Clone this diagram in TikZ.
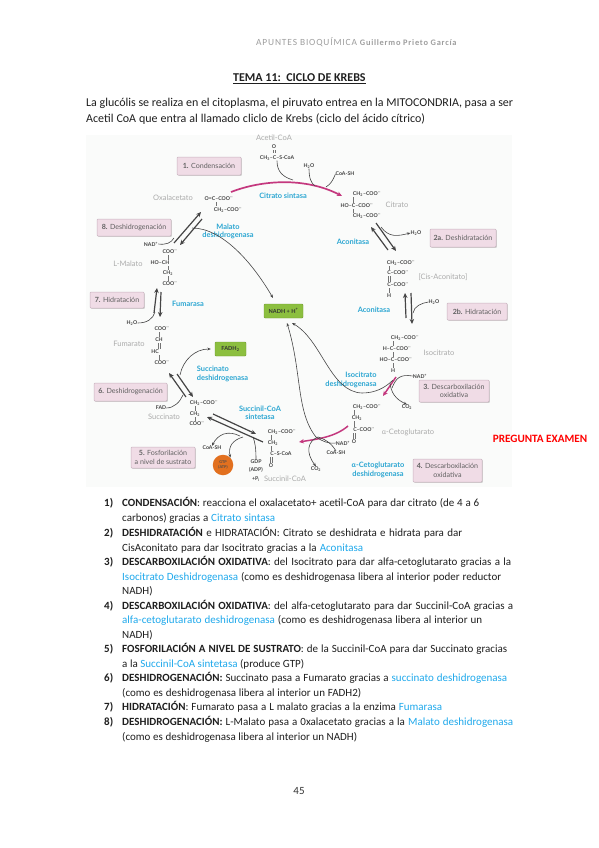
\documentclass[tikz,border=0pt]{standalone}
\usepackage{fontspec}
\setmainfont{Carlito}
\newfontfamily\figfont{Lato}
\newfontfamily\headfont[LetterSpace=9]{Carlito}
\usetikzlibrary{arrows.meta,shadows}
\definecolor{figback}{HTML}{FAFBFA}
\definecolor{boxpink}{HTML}{F0DCE6}
\definecolor{boxline}{HTML}{C9B3BF}
\definecolor{enzblue}{HTML}{2CA6D2}
\definecolor{listblue}{HTML}{1FA9EC}
\definecolor{labgray}{HTML}{ABABAB}
\definecolor{darkline}{HTML}{454545}
\definecolor{pinkline}{HTML}{C4387E}
\definecolor{greenbox}{HTML}{8CBF3F}
\definecolor{orangeball}{HTML}{E2701F}
\tikzset{
  mainarrow/.style={-{Stealth[length=5pt,width=4.5pt]}, line width=1.2pt, darkline},
  pinkarrow/.style={-{Stealth[length=5pt,width=4.5pt]}, line width=1.5pt, pinkline},
  thinarrow/.style={-{Stealth[length=3.5pt,width=2.8pt]}, line width=0.6pt, darkline},
  thinline/.style={line width=0.6pt, darkline},
  bond/.style={line width=0.3pt, black!55},
  stepbox/.style={draw=boxline, rounded corners=1pt, fill=boxpink, line width=0.5pt, inner sep=0pt, align=center,
    font=\figfont\fontsize{7.1}{8.4}\selectfont, text=black!62, drop shadow={shadow xshift=0.9pt, shadow yshift=-0.9pt, fill=black!35}},
  chem/.style={font=\figfont\bfseries\fontsize{5.2}{6}\selectfont, text=black!75, inner sep=0pt},
  enzyme/.style={font=\figfont\bfseries\fontsize{7.4}{8.4}\selectfont, text=enzblue, inner sep=0pt, align=center},
  gray label/.style={font=\figfont\fontsize{7.5}{9}\selectfont, text=labgray, inner sep=0pt},
  bodytext/.style={anchor=base west, inner sep=0pt, font=\fontsize{11}{13}\selectfont, text=black!88},
  prodbox/.style={draw=greenbox!80!black, rounded corners=1pt, fill=greenbox, inner sep=0pt, line width=0.4pt,
    font=\figfont\bfseries\fontsize{5.6}{7}\selectfont, text=black!80}
}
\newcommand{\chtwo}{CH\textsubscript{2}}
\newcommand{\cthree}{CH\textsubscript{3}}
\newcommand{\coom}{COO\textsuperscript{--}}
\newcommand{\water}{H\textsubscript{2}O}
\newcommand{\cotwo}{CO\textsubscript{2}}
\newcommand{\nadp}{NAD\textsuperscript{+}}
\newcommand{\alfa}{{\rmfamily α}}
\newcommand{\listline}[4]{\node[bodytext] (#1) at (122,#2) {\makebox[#3pt][s]{#4}};}
\newcommand{\enz}[1]{\textcolor{listblue}{#1}}
\begin{document}
\begin{tikzpicture}[x=1pt, y=-1pt]
  \useasboundingbox (0,0) rectangle (599,848);
  \fill[white] (0,0) rectangle (599,848);
  \fill[figback] (86,135) rectangle (512,487);

  % page head
  \node[anchor=base west, inner sep=0pt, text=black!38] (head) at (256,46) {\headfont\fontsize{9.4}{10}\selectfont APUNTES BIOQUÍMICA \fontsize{8.4}{10}\selectfont\bfseries Guillermo Prieto García};
  \node[bodytext, font=\bfseries\fontsize{12}{14}\selectfont] (title) at (233,82) {\underline{TEMA 11:\ \ CICLO DE KREBS}};
  \node[bodytext, font=\fontsize{12}{14}\selectfont] (introa) at (86,107) {\makebox[427pt][s]{La glucólis se realiza en el citoplasma, el piruvato entrea en la MITOCONDRIA, pasa a ser}};
  \node[bodytext, font=\fontsize{12}{14}\selectfont] (introb) at (86,123) {\makebox[339pt][s]{Acetil CoA que entra al llamado cliclo de Krebs (ciclo del ácido cítrico)}};

  % steps
  \node[stepbox, minimum width=64pt, minimum height=18pt] (paso1) at (209,166) {\textbf{1.} Condensación};
  \node[stepbox, minimum width=66pt, minimum height=18pt] (paso2a) at (463,238) {\textbf{2a.} Deshidratación};
  \node[stepbox, minimum width=60pt, minimum height=17pt] (paso2b) at (477,311.5) {\textbf{2b.} Hidratación};
  \node[stepbox, minimum width=70pt, minimum height=22pt] (paso3) at (454,391) {\textbf{3.} Descarboxilación\\oxidativa};
  \node[stepbox, minimum width=69pt, minimum height=23pt] (paso4) at (447.5,470.5) {\textbf{4.} Descarboxilación\\oxidativa};
  \node[stepbox, minimum width=64pt, minimum height=21pt] (paso5) at (163,457.5) {\textbf{5.} Fosforilación\\a nivel de sustrato};
  \node[stepbox, minimum width=73pt, minimum height=18pt] (paso6) at (130.5,392) {\textbf{6.} Deshidrogenación};
  \node[stepbox, minimum width=54pt, minimum height=16pt] (paso7) at (117,300) {\textbf{7.} Hidratación};
  \node[stepbox, minimum width=74pt, minimum height=17pt] (paso8) at (134,227.5) {\textbf{8.} Deshidrogenación};

  % metabolites
  \foreach \nm/\xp/\yp/\txt in {acetil/274/138/Acetil-CoA, oxa/173/198/Oxalacetato, citrato/397/205/Citrato,
    cis/443/277/{[Cis-Aconitato]}, isocit/439/353/Isocitrato, ceto/408/432/{\alfa-Cetoglutarato}, succoa/285/479/Succinil-CoA,
    succ/164/417/Succinato, fumarato/129/344/Fumarato, malato/128/264/L-Malato}
    \node[gray label] (\nm) at (\xp,\yp) {\txt};

  % enzymes
  \node[enzyme] (citsin) at (283,196) {Citrato sintasa};
  \node[enzyme] (acon1) at (353,242) {Aconitasa};
  \node[enzyme] (acon2) at (374,310) {Aconitasa};
  \node[enzyme, align=right] (isodh) at (351,380) {Isocitrato\\deshidrogenasa};
  \node[enzyme] (cetodh) at (378,470) {\alfa-Cetoglutarato\\deshidrogenasa};
  \node[enzyme] (sucsin) at (260,413) {Succinil-CoA\\sintetasa};
  \node[enzyme, align=left] (sucdh) at (222.5,374) {Succinato\\deshidrogenasa};
  \node[enzyme] (fumar) at (188,304) {Fumarasa};
  \node[enzyme] (maldh) at (228,231.5) {Malato\\deshidrogenasa};

  % formula lines
  \foreach \nm/\xp/\yp/\txt in {aco/274/147/O, acc/277/158/{\cthree–C–S-CoA},
    oxb/219/199/{O=C–\coom}, oxc/228/210/{\chtwo–\coom},
    cia/367/194/{\chtwo–\coom}, cib/357/206/{HO–C–\coom}, cic/367/216/{\chtwo–\coom},
    caa/401/263/{\chtwo–\coom}, cab/398/273/{C–\coom}, cac/398/285/{C–\coom}, cad/389/296/H,
    isa/405/338/{\chtwo–\coom}, isb/397/349/{H–C–\coom}, isc/396/360/{HO–C–\coom}, isd/393/371/H,
    kea/367/407/{\chtwo–\coom}, keb/357/418/{\chtwo}, kec/364/430/{C–\coom}, ked/354/442/O,
    sca/282/432/{\chtwo–\coom}, scb/273/443/{\chtwo}, scc/281/454/{C–S-CoA}, scd/271/466/O,
    sua/204/403/{\chtwo–\coom}, sub/195/414/{\chtwo}, suc/197/424/{\coom},
    fua/162/329/{\coom}, fub/159/340/CH, fuc/155/352/HC, fud/162/363/{\coom},
    maa/170/252/{\coom}, mab/160/263/{HO–CH}, mac/168/273/{\chtwo}, mad/170/284/{\coom}}
    \node[chem] (\nm) at (\xp,\yp) {\txt};
  \foreach \xp/\ya/\yb in {353/197/203, 353/209/213, 389/266/270, 389/288/293,
    393/341/346, 393/352/357, 393/363/368, 354/410/415, 354/421/427, 271/435/440, 271/446/451,
    195/406/411, 195/417/421, 159/332/337, 159/355/360, 168/255/260, 168/266/270, 168/276/281, 216/202/206}
    \draw[bond] (\xp,\ya) -- (\xp,\yb);
  \foreach \xp/\ya/\yb in {273/150/153, 275/150/153, 388/276/282, 390/276/282, 353/433/439, 355/433/439,
    270/457/463, 272/457/463, 158/343/349, 160/343/349}
    \draw[bond] (\xp,\ya) -- (\xp,\yb);

  % small reagents
  \foreach \nm/\xp/\yp/\txt in {aguaa/309/166/{\water}, coaa/345/174/CoA-SH, aguab/416/233/{\water}, aguac/434/302/{\water},
    nadc/420/376/{\nadp}, cotwa/407/407/{\cotwo}, nadd/343/443/{\nadp}, coab/336/453/CoA-SH, cotwb/316/469/{\cotwo},
    coac/212/448/CoA-SH, gdp/256/462/GDP, adp/256/470/(ADP), pi/256/479/+P\textsubscript{i}, fad/161/408/FAD,
    aguad/132/323/{\water}, nade/151/244/{\nadp}}
    \node[chem] (\nm) at (\xp,\yp) {\txt};

  \node[prodbox, minimum width=39pt, minimum height=14pt] (nadh) at (283.5,311) {NADH + H\textsuperscript{+}};
  \node[prodbox, minimum width=31pt, minimum height=14pt] (fadh) at (230.5,349) {FADH\textsubscript{2}};
  \node[circle, fill=orangeball, minimum size=20.5pt, inner sep=0pt, align=center, font=\figfont\bfseries\fontsize{3.8}{4.6}\selectfont, text=black!70] (gtp) at (223,465) {GTP\\(ATP)};

  % free ends
  \foreach \nm/\xp/\yp in {pka/231/192, pkb/342/196, pkc/396/377, pkd/383/396, pke/348/426, pkf/299/442,
    ma/174/243, mb/201/212, mc/202/219, md/180/245, me/154/313, mf/157/288, mg/161/292, mh/160/317,
    mi/186/397, mj/169/373, mk/177/374, ml/193/397, mm/263/442, mn/207/417, mo/213/414, mp/256/434,
    mq/388/250, mr/371/227, ms/376/223, mt/396/251, mu/406/318, mv/405/293, mw/411/293, mx/412/324,
    joina/315/186, joinb/326/187, joinc/293/180, joind/174/238, joine/155/312, joinf/183/395, joing/180/375,
    joinh/240/436, joini/243/437, joinj/253/437, joink/381/227, joinl/413/313, joinm/393/380, joinn/390/383, joino/318/437,
    joinp/192/228, joinq/316/437, joinr/392/388, nadhin/273/298, nadhinb/292/323, nadhinc/287/323}
    \coordinate (\nm) at (\xp,\yp);

  % cycle arrows
  \draw[pinkarrow, line width=1.7pt] (pka) .. controls (262,180) and (305,177) .. (pkb);
  \draw[pinkarrow] (pkc) -- (pkd);
  \draw[pinkarrow] (pke) .. controls (335,437) and (318,439) .. (pkf);
  \foreach \ini/\fin in {ma/mb, mc/md, me/mf, mg/mh, mi/mj, mk/ml, mm/mn, mo/mp, mq/mr, ms/mt, mu/mv, mw/mx}
    \draw[mainarrow] (\ini) -- (\fin);

  % side reactions
  \draw[thinline] (acc.south) .. controls (277,172) and (283,177) .. (joinc);
  \draw[thinline] (aguaa.south) .. controls (309,178) and (311,183) .. (joina);
  \draw[thinline] (coaa.west) .. controls (333,180) and (331,184) .. (joinb);
  \draw[thinarrow] (joink) .. controls (389,238) and (398,236) .. (aguab.west);
  \draw[thinline] (aguac.west) .. controls (422,303) and (414,306) .. (joinl);
  \draw[thinline] (nadc.west) .. controls (400,374) and (396,378) .. (joinr);
  \draw[thinarrow] (joinn) .. controls (391,392) and (395,399) .. (cotwa.north);
  \draw[thinline] (coab.north) .. controls (333,446) and (328,440) .. (joino);
  \draw[thinarrow] (joino) .. controls (308,441) and (305,452) .. (cotwb.north);
  \draw[thinarrow] (joinh) .. controls (228,430) and (218,434) .. (coac.north);
  \draw[thinarrow] (joini) .. controls (233,440) and (228,446) .. (gtp.north east);
  \draw[thinline] (gdp.north) .. controls (256,448) and (255,442) .. (joinj);
  \draw[thinline] (fad.east) .. controls (174,408) and (180,402) .. (joinf);
  \draw[thinarrow, shorten >=4pt] (joing) .. controls (183,360) and (195,349) .. (fadh.west);
  \draw[thinline] (aguad.east) .. controls (147,323) and (153,319) .. (joine);
  \draw[thinline] (nade.east) .. controls (166,245) and (171,243) .. (joind);

  % NADH arcs
  \draw[thinarrow] (joinp) .. controls (222,228) and (252,262) .. (nadhin);
  \draw[thinarrow] (joinm) .. controls (385,388) and (375,393) .. (362,393) .. controls (330,392) and (322,340) .. (nadhinb);
  \draw[thinarrow] (nadd.west) .. controls (328,444) and (322,441) .. (joinq) .. controls (296,412) and (302,372) .. (nadhinc);

  % note
  \node[inner sep=0pt, text=red, font=\bfseries\fontsize{11.2}{13}\selectfont] (examen) at (540,439) {PREGUNTA EXAMEN};

  % list
  \foreach \num/\yp in {1/506, 2/536, 3/565, 4/609, 5/652, 6/681, 7/710, 8/725}
    \node[bodytext, font=\bfseries\fontsize{11}{13}\selectfont] (num\num) at (104,\yp) {\num)};
  \listline{la}{506}{357}{\textbf{CONDENSACIÓN}: reacciona el oxalacetato+ acetil-CoA para dar citrato (de 4 a 6}
  \listline{lb}{521}{153}{carbonos) gracias a \enz{Citrato sintasa}}
  \listline{lc}{536}{340}{\textbf{DESHIDRATACIÓN} e HIDRATACIÓN: Citrato se deshidrata e hidrata para dar}
  \listline{ld}{551}{241}{CisAconitato para dar Isocitrato gracias a la \enz{Aconitasa}}
  \listline{le}{565}{389}{\textbf{DESCARBOXILACIÓN OXIDATIVA}: del Isocitrato para dar alfa-cetoglutarato gracias a la}
  \listline{lf}{580}{379}{\enz{Isocitrato Deshidrogenasa} (como es deshidrogenasa libera al interior poder reductor}
  \listline{lg}{594}{30}{NADH)}
  \listline{lh}{609}{391}{\textbf{DESCARBOXILACIÓN OXIDATIVA}: del alfa-cetoglutarato para dar Succinil-CoA gracias a}
  \listline{li}{623}{360}{\enz{alfa-cetoglutarato deshidrogenasa} (como es deshidrogenasa libera al interior un}
  \listline{lj}{638}{30}{NADH)}
  \listline{lk}{652}{385}{\textbf{FOSFORILACIÓN A NIVEL DE SUSTRATO}: de la Succinil-CoA para dar Succinato gracias}
  \listline{ll}{667}{182}{a la \enz{Succinil-CoA sintetasa} (produce GTP)}
  \listline{lm}{681}{385}{\textbf{DESHIDROGENACIÓN:} Succinato pasa a Fumarato gracias a \enz{succinato deshidrogenasa}}
  \listline{ln}{696}{239}{(como es deshidrogenasa libera al interior un FADH2)}
  \listline{lo}{710}{320}{\textbf{HIDRATACIÓN}: Fumarato pasa a L malato gracias a la enzima \enz{Fumarasa}}
  \listline{lp}{725}{391}{\textbf{DESHIDROGENACIÓN:} L-Malato pasa a 0xalacetato gracias a la \enz{Malato deshidrogenasa}}
  \listline{lq}{740}{235}{(como es deshidrogenasa libera al interior un NADH)}

  \node[inner sep=0pt, font=\fontsize{11}{13}\selectfont, text=black!80] (pagina) at (299,791) {45};
\end{tikzpicture}
\end{document}
